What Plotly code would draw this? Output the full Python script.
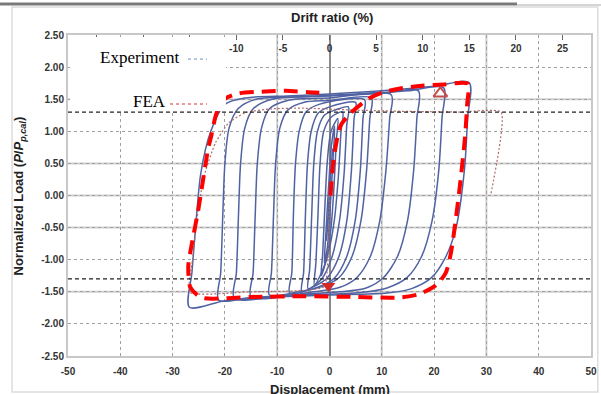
import plotly.graph_objects as go

# ---------------- data ----------------
x_ticks = [-50, -40, -30, -20, -10, 0, 10, 20, 30, 40, 50]
x_tick_text = ["-50", "-40", "-30", "-20", "-10", "0", "10", "20", "30", "40", "50"]
y_ticks = [-2.5, -2.0, -1.5, -1.0, -0.5, 0.0, 0.5, 1.0, 1.5, 2.0, 2.5]
y_tick_text = ["-2.50", "-2.00", "-1.50", "-1.00", "-0.50", "0.00", "0.50", "1.00", "1.50", "2.00", "2.50"]
drift_ticks = [-25, -20, -15, -10, -5, 0, 5, 10, 15, 20, 25]
drift_label_ticks = [-10, -5, 0, 5, 10, 15, 20, 25]          # labels visible (others hidden by legend box)
drift_label_text = ["-10", "-5", "0", "5", "10", "15", "20", "25"]
drift_range = [-28.05, 28.05]
x_range = [-50, 50]
y_range = [-2.5, 2.5]

# Experiment hysteresis loops (displacement mm, normalized load)
loop_e1_x = [-0.6, -0.3, 0.1, 0.5, 0.6, 0.3, -0.1, -0.5, -0.6]
loop_e1_y = [-0.7, -0.35, 0.2, 0.62, 0.72, 0.4, -0.2, -0.62, -0.7]
loop_e2_x = [-1.0, -0.7, -0.2, 0.4, 1.0, 0.7, 0.2, -0.4, -1.0]
loop_e2_y = [-1.05, -0.6, 0.1, 0.8, 1.08, 0.6, -0.1, -0.8, -1.05]
loop_01_x = [-1.6, -1.3, -0.9, -0.4, 0.3, 1.6, 1.3, 0.9, 0.3, -0.6, -1.6]
loop_01_y = [-1.25, -0.9, -0.2, 0.55, 1.0, 1.2, 0.85, 0.2, -0.5, -1.0, -1.25]
loop_02_x = [-2.9, -2.6, -2.2, -1.8, -1.1, 0.3, 2.5, 2.2, 1.7, 0.9, -0.4, -1.8, -2.9]
loop_02_y = [-1.4, -1.05, -0.3, 0.5, 1.0, 1.22, 1.3, 1.0, 0.3, -0.4, -0.95, -1.25, -1.4]
loop_03_x = [-4.1, -3.8, -3.4, -3.0, -2.3, -1.0, 1.0, 3.6, 3.3, 2.8, 1.9, 0.5, -1.5, -4.1]
loop_03_y = [-1.45, -1.15, -0.3, 0.5, 1.0, 1.25, 1.33, 1.38, 1.1, 0.35, -0.4, -0.95, -1.3, -1.45]
loop_04_x = [-5.3, -4.95, -4.6, -4.2, -3.5, -2.2, 0.0, 5.0, 4.7, 4.2, 3.3, 1.8, -0.4, -3.0, -5.3]
loop_04_y = [-1.49, -1.2, -0.3, 0.5, 1.0, 1.28, 1.38, 1.45, 1.2, 0.4, -0.4, -0.95, -1.28, -1.42, -1.49]
loop_05_x = [-7.6, -7.2, -6.9, -6.5, -5.8, -4.5, -2.0, 6.7, 6.4, 5.9, 4.9, 3.3, 1.0, -2.0, -7.6]
loop_05_y = [-1.52, -1.2, -0.3, 0.5, 1.0, 1.3, 1.42, 1.49, 1.2, 0.4, -0.4, -0.95, -1.28, -1.42, -1.52]
loop_06_x = [-11.5, -11.1, -10.7, -10.3, -9.5, -8.0, -5.0, 0.0, 8.0, 7.7, 7.1, 6.0, 4.3, 1.8, -1.5, -6.0, -11.5]
loop_06_y = [-1.55, -1.2, -0.3, 0.5, 1.05, 1.33, 1.45, 1.48, 1.52, 1.2, 0.4, -0.4, -0.95, -1.28, -1.42, -1.5, -1.55]
loop_07_x = [-15.0, -14.6, -14.2, -13.8, -13.0, -11.5, -8.0, 0.0, 11.8, 11.5, 10.8, 9.6, 7.8, 5.2, 2.0, -3.0, -15.0]
loop_07_y = [-1.58, -1.2, -0.3, 0.5, 1.05, 1.35, 1.48, 1.52, 1.57, 1.2, 0.4, -0.4, -0.95, -1.28, -1.43, -1.5, -1.58]
loop_08_x = [-18.2, -17.8, -17.4, -17.0, -16.2, -14.6, -11.0, 0.0, 10.0, 17.0, 16.7, 16.1, 14.9, 13.0, 10.3, 7.0, 2.0, -8.0, -18.2]
loop_08_y = [-1.6, -1.2, -0.3, 0.5, 1.05, 1.35, 1.5, 1.55, 1.59, 1.63, 1.2, 0.4, -0.4, -0.95, -1.28, -1.44, -1.5, -1.55, -1.6]
loop_09_x = [-21.2, -20.8, -20.4, -20.0, -19.2, -17.5, -14.0, -5.0, 5.0, 15.0, 21.8, 21.5, 20.9, 19.6, 17.6, 14.8, 11.0, 6.0, -5.0, -15.0, -21.2]
loop_09_y = [-1.63, -1.2, -0.3, 0.5, 1.05, 1.35, 1.5, 1.54, 1.58, 1.63, 1.68, 1.2, 0.4, -0.4, -0.95, -1.28, -1.44, -1.51, -1.55, -1.59, -1.63]
loop_10_x = [-26.8, -26.3, -25.7, -24.6, -22.7, -20.0, -16.0, -8.0, 0.0, 10.0, 20.0, 26.7, 26.4, 25.8, 24.2, 22.2, 19.5, 15.7, 11.0, 0.0, -10.0, -20.0, -26.8]
loop_10_y = [-1.74, -1.2, -0.6, 0.35, 1.0, 1.42, 1.52, 1.55, 1.58, 1.63, 1.7, 1.76, 1.2, 0.4, -0.5, -0.96, -1.28, -1.45, -1.52, -1.55, -1.58, -1.64, -1.74]

experiment_loops = [
    (loop_e1_x, loop_e1_y), (loop_e2_x, loop_e2_y),
    (loop_01_x, loop_01_y), (loop_02_x, loop_02_y), (loop_03_x, loop_03_y),
    (loop_04_x, loop_04_y), (loop_05_x, loop_05_y), (loop_06_x, loop_06_y),
    (loop_07_x, loop_07_y), (loop_08_x, loop_08_y), (loop_09_x, loop_09_y),
    (loop_10_x, loop_10_y),
]

# FEA curve
fea_x = [0.0, -0.3, -1.0, -5.0, -15.0, -26.7, -26.2, -25.4, -24.0, -21.8, -19.3, -16.1, -11.0, -5.0, 5.0, 15.0, 25.0, 32.8, 30.8]
fea_y = [0.0, -1.0, -1.42, -1.48, -1.5, -1.51, -1.0, -0.4, 0.3, 0.82, 1.13, 1.29, 1.35, 1.36, 1.33, 1.31, 1.30, 1.30, 0.0]

# Red dashed envelope
env_x = [0.2, 0.7, 1.5, 2.2, 4.0, 6.0, 8.0, 10.0, 13.0, 17.6, 22.0, 26.4, 26.3, 25.9, 25.0, 24.1, 23.2, 22.2, 20.3, 17.0,
         13.0, 5.0, -5.0, -15.0, -24.5, -26.6, -27.0, -26.2, -25.1, -23.2, -22.6, -21.6, -19.9, -17.4, -12.3, -8.4, -4.0, -1.5]
env_y = [0.0, 0.5, 0.9, 1.1, 1.28, 1.42, 1.53, 1.6, 1.66, 1.71, 1.73, 1.74, 1.4, 0.9, 0.2, -0.4, -0.9, -1.21, -1.40, -1.54,
         -1.59, -1.58, -1.57, -1.58, -1.59, -1.43, -1.1, -0.7, -0.23, 0.73, 0.93, 1.28, 1.51, 1.59, 1.62, 1.63, 1.61, 1.6]

# markers
peak_pos_x = [21.2]
peak_pos_y = [1.59]
peak_neg_x = [-0.2]
peak_neg_y = [-1.41]

# reference load levels
ref_x = [-50, 50]
ref_pos_y = [1.3, 1.3]
ref_neg_y = [-1.3, -1.3]

# solid grid positions
solid_grid_x = [-10, 10, 30]
solid_grid_y = [-1.5, -0.5, 0.0, 0.5, 1.5]

# ---------------- figure ----------------
BLUE = "#5062a2"
fig = go.Figure()

for lx, ly in experiment_loops:
    fig.add_trace(go.Scatter(x=lx, y=ly, mode="lines",
                             line=dict(color=BLUE, width=1.5, shape="spline", smoothing=0.8),
                             showlegend=False, hoverinfo="skip"))

fig.add_trace(go.Scatter(x=fea_x, y=fea_y, mode="lines",
                         line=dict(color="#b06a6a", width=1.2, dash="2px,2px", shape="spline", smoothing=0.5),
                         showlegend=False, hoverinfo="skip"))

fig.add_trace(go.Scatter(x=ref_x, y=ref_pos_y, mode="lines",
                         line=dict(color="#222222", width=1.2, dash="4px,3px"), showlegend=False, hoverinfo="skip"))
fig.add_trace(go.Scatter(x=ref_x, y=ref_neg_y, mode="lines",
                         line=dict(color="#222222", width=1.2, dash="4px,3px"), showlegend=False, hoverinfo="skip"))

fig.add_trace(go.Scatter(x=env_x, y=env_y, mode="lines",
                         line=dict(color="#ff0000", width=4, dash="14px,8px", shape="spline", smoothing=0.7),
                         showlegend=False, hoverinfo="skip"))

fig.add_trace(go.Scatter(x=peak_pos_x, y=peak_pos_y, mode="markers",
                         marker=dict(symbol="triangle-up-open", size=12, color="#c0504d", line=dict(width=2, color="#c0504d")),
                         showlegend=False, hoverinfo="skip"))
fig.add_trace(go.Scatter(x=peak_neg_x, y=peak_neg_y, mode="markers",
                         marker=dict(symbol="triangle-down", size=12, color="#d42a2a"),
                         showlegend=False, hoverinfo="skip"))

# invisible traces to activate the drift-ratio axes (ticks / labels)
fig.add_trace(go.Scatter(x=drift_range, y=[0, 0], xaxis="x2", mode="lines",
                         line=dict(width=0, color="rgba(0,0,0,0)"), showlegend=False, hoverinfo="skip"))
fig.add_trace(go.Scatter(x=drift_range, y=[0, 0], xaxis="x3", mode="lines",
                         line=dict(width=0, color="rgba(0,0,0,0)"), showlegend=False, hoverinfo="skip"))

tickfont = dict(family="Liberation Sans, Arial", size=10, color="#333333", weight=700)

shapes = []
for gx in solid_grid_x:
    shapes.append(dict(type="line", xref="x", yref="paper", x0=gx, x1=gx, y0=0, y1=1,
                       line=dict(color="#cfcfcf", width=2), layer="below"))
for gy in solid_grid_y:
    shapes.append(dict(type="line", xref="paper", yref="y", x0=0, x1=1, y0=gy, y1=gy,
                       line=dict(color="#cfcfcf", width=2), layer="below"))

# legend box
shapes.append(dict(type="rect", xref="paper", yref="paper", x0=0.004, x1=0.302, y0=0.763, y1=0.994,
                   fillcolor="white", line=dict(width=0), layer="above"))
shapes.append(dict(type="line", xref="paper", yref="paper", x0=0.2294, x1=0.2658, y0=0.925, y1=0.925,
                   line=dict(color="#6a8ccc", width=1, dash="dot"), layer="above"))
shapes.append(dict(type="line", xref="paper", yref="paper", x0=0.195, x1=0.2658, y0=0.785, y1=0.785,
                   line=dict(color="#e03030", width=1, dash="dot"), layer="above"))
# page decorations (frame / top rule)
shapes.append(dict(type="rect", xref="paper", yref="paper", x0=-0.107, x1=1.013, y0=-0.112, y1=1.087,
                   line=dict(color="#dcdcdc", width=1.5), fillcolor="rgba(0,0,0,0)", layer="below"))
shapes.append(dict(type="line", xref="paper", yref="paper", x0=-0.14, x1=0.8585, y0=1.0966, y1=1.0966,
                   line=dict(color="#7a7a7a", width=3)))
shapes.append(dict(type="line", xref="paper", yref="paper", x0=0.8585, x1=1.03, y0=1.0935, y1=1.0935,
                   line=dict(color="#d5d5d5", width=2)))

annotations = [
    dict(text="Experiment", xref="paper", yref="paper", x=0.1377, y=0.931, xanchor="center", yanchor="middle",
         showarrow=False, font=dict(family="Liberation Serif, Times New Roman", size=17, color="black")),
    dict(text="FEA", xref="paper", yref="paper", x=0.1549, y=0.794, xanchor="center", yanchor="middle",
         showarrow=False, font=dict(family="Liberation Serif, Times New Roman", size=17, color="black")),
    dict(text="Drift ratio (%)", xref="paper", yref="paper", x=0.5048, y=1.056, xanchor="center", yanchor="middle",
         showarrow=False, font=dict(family="Liberation Sans, Arial", size=13, color="#222222", weight=700)),
    dict(text="Displacement (mm)", xref="paper", yref="paper", x=0.5, y=-0.075, xanchor="center", yanchor="top",
         showarrow=False, font=dict(family="Liberation Sans, Arial", size=13, color="#222222", weight=700)),
    dict(text="Normalized Load (<i>P</i>/<i>P</i><sub><i>p,cal</i></sub>)", xref="paper", yref="paper",
         x=-0.0918, y=0.5, xanchor="center", yanchor="middle", textangle=-90, showarrow=False,
         font=dict(family="Liberation Sans, Arial", size=13, color="#222222", weight=700)),
]

fig.update_layout(
    width=601, height=394, autosize=False,
    margin=dict(l=68, r=10, t=35, b=38, autoexpand=False),
    paper_bgcolor="white", plot_bgcolor="white",
    showlegend=False,
    xaxis=dict(range=x_range, tickvals=x_ticks, ticktext=x_tick_text, tickfont=tickfont, automargin=False,
               ticks="outside", ticklen=5, tickcolor="rgba(0,0,0,0)",
               showgrid=True, gridcolor="#a0a0a0", griddash="dot", gridwidth=1,
               zeroline=True, zerolinecolor="#8a8a8a", zerolinewidth=1.5,
               showline=True, linecolor="#c8c8c8", linewidth=2, mirror=True),
    xaxis2=dict(range=drift_range, overlaying="x", side="top", anchor="y", automargin=False,
                tickvals=drift_ticks, showticklabels=False,
                ticks="inside", ticklen=5, tickcolor="#666666",
                showgrid=False, zeroline=False, showline=False),
    xaxis3=dict(range=drift_range, overlaying="x", side="top", anchor="free", position=0.94, automargin=False,
                tickvals=drift_label_ticks, ticktext=drift_label_text, tickfont=tickfont,
                ticks="", showgrid=False, zeroline=False, showline=False),
    yaxis=dict(range=y_range, tickvals=y_ticks, ticktext=y_tick_text, tickfont=tickfont, automargin=False,
               showgrid=True, gridcolor="#a0a0a0", griddash="dot", gridwidth=1,
               zeroline=False, showline=True, linecolor="#c8c8c8", linewidth=2, mirror=True),
    shapes=shapes,
    annotations=annotations,
)

fig.write_html("out.html", config={"displayModeBar": False},
               post_script="document.body.style.margin='0px';")
